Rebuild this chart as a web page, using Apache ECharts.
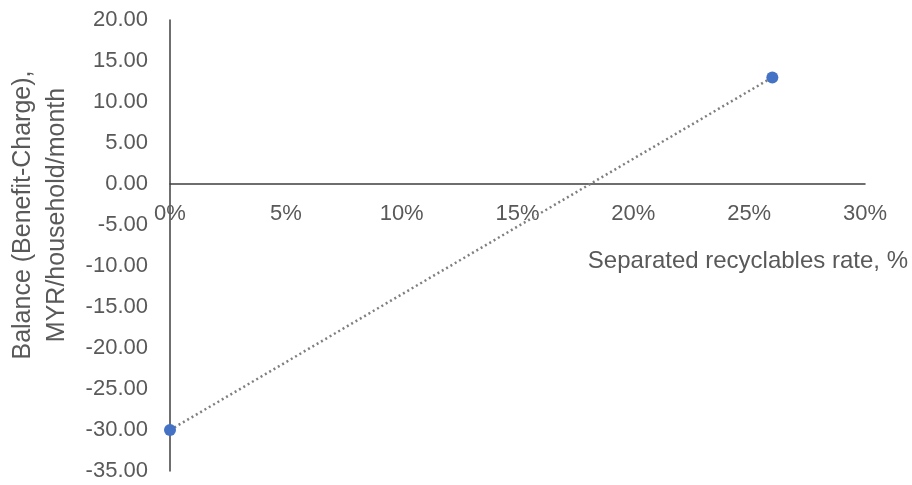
<!DOCTYPE html>
<html>
<head>
<meta charset="utf-8">
<script src="https://cdn.jsdelivr.net/npm/echarts@6/dist/echarts.min.js"></script>
<style>
  html, body { margin: 0; padding: 0; background: #ffffff; }
  #chart { width: 912px; height: 485px; }
</style>
</head>
<body>
<div id="chart"></div>
<script>
// Separated recyclables rate (%) and the resulting monthly household balance
const recyclableRates = [0, 26];
const balances = [-30.0, 13.0];

const xTitle = 'Separated recyclables rate, %';
const yTitleLines = ['Balance (Benefit-Charge),', 'MYR/household/month'];

const Y_MIN = -35;
const Y_MAX = 20;

const textColor = '#595959';
const axisColor = '#3f3f3f';
const fontFamily = '"Liberation Sans", Arial, sans-serif';

const chart = echarts.init(document.getElementById('chart'), null, { renderer: 'canvas' });

chart.setOption({
  backgroundColor: '#ffffff',
  animation: false,
  grid: { left: 170, right: 47, top: 20, bottom: 14, containLabel: false, outerBoundsMode: 'none' },
  xAxis: {
    type: 'value',
    min: 0,
    max: 30,
    interval: 5,
    axisLine: { show: true, onZero: false, lineStyle: { color: axisColor, width: 1.5 } },
    axisTick: { show: false },
    splitLine: { show: false },
    axisLabel: {
      color: textColor,
      fontFamily: fontFamily,
      fontSize: 22,
      margin: 19,
      formatter: v => v + '%'
    }
  },
  yAxis: {
    type: 'value',
    min: Y_MIN,
    max: Y_MAX,
    interval: 5,
    axisLine: { show: true, onZero: false, lineStyle: { color: axisColor, width: 1.5 } },
    axisTick: { show: false },
    splitLine: { show: false },
    axisLabel: {
      color: textColor,
      fontFamily: fontFamily,
      fontSize: 22,
      margin: 22,
      formatter: v => v.toFixed(2)
    }
  },
  graphic: [
    {
      type: 'text',
      x: 908,
      y: 261,
      style: {
        text: xTitle,
        fill: textColor,
        font: '24px ' + fontFamily,
        textAlign: 'right',
        textVerticalAlign: 'middle'
      }
    },
    {
      type: 'text',
      x: 40,
      y: 215,
      rotation: Math.PI / 2,
      style: {
        text: yTitleLines.join('\n'),
        fill: textColor,
        font: '25px ' + fontFamily,
        lineHeight: 34,
        textAlign: 'center',
        textVerticalAlign: 'middle'
      }
    }
  ],
  series: [
    {
      type: 'line',
      data: recyclableRates.map((r, i) => [r, balances[i]]),
      symbol: 'circle',
      symbolSize: 12,
      itemStyle: { color: '#4472C4' },
      lineStyle: { color: '#7f7f7f', width: 2.5, type: [2, 3] },
      z: 3
    }
  ]
});

// Lift the horizontal axis (line and labels together) up to the zero line
const zeroY = chart.convertToPixel({ yAxisIndex: 0 }, 0);
const floorY = chart.convertToPixel({ yAxisIndex: 0 }, Y_MIN);
chart.setOption({ xAxis: { offset: -(floorY - zeroY) } });
</script>
</body>
</html>
